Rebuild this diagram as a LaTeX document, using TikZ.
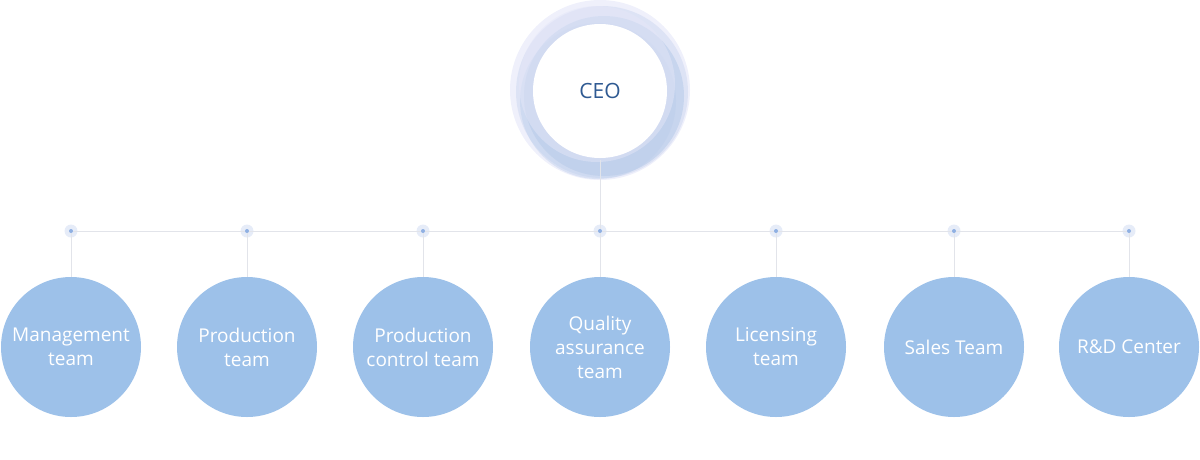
\documentclass[tikz,border=0pt]{standalone}
\usepackage{fontspec}
\setmainfont{Open Sans}
\definecolor{teamblue}{HTML}{9DC1E9}
\definecolor{linegray}{HTML}{E2E4EA}
\definecolor{dotblue}{HTML}{8FB0E3}
\definecolor{halo}{HTML}{E6ECF8}
\definecolor{ceotext}{HTML}{2F5A92}
\definecolor{ringA}{HTML}{E4E6F8}
\definecolor{ringB}{HTML}{B9CCEA}
\definecolor{ringC}{HTML}{D3DBF2}
\begin{document}
\begin{tikzpicture}[x=1pt,y=-1pt,
  team/.style={circle,fill=teamblue,minimum size=140pt,inner sep=0pt,text=white,font=\fontsize{19}{24}\selectfont,align=center},
  conn/.style={draw=linegray,line width=0.9pt},
  hub/.style={circle,fill=dotblue,minimum size=4pt,inner sep=0pt}]
\useasboundingbox (0,0) rectangle (1200,459);
% CEO rings
\fill[ringA,opacity=0.6] (600,90) circle (90);
\fill[ringC,opacity=0.6] (602,92) circle (86);
\fill[ringB,opacity=0.6] (604,96) circle (80);
\fill[ringB,opacity=0.4] (598,101) circle (78);
\fill[ringA,opacity=0.5] (597,84) circle (78);
\node[circle,fill=white,minimum size=134pt,inner sep=0pt,text=ceotext,font=\fontsize{21}{24}\selectfont] (ceo) at (600,91) {CEO};
% bus
\foreach \n/\x in {a/71,b/247,c/423,d/600,e/776,f/954,g/1129}{
  \fill[halo] (\x,231) circle (6.5);
  \node[hub] (h\n) at (\x,231) {};
}
\draw[conn] (ha) -- (hb) -- (hc) -- (hd) -- (he) -- (hf) -- (hg);
\coordinate (ceob) at (600,160);
\draw[conn] (ceob) -- (hd);
\node[team] (ta) at (71,347) {Management\\team};
\node[team] (tb) at (247,347) {Production\\team};
\node[team] (tc) at (423,347) {Production\\control team};
\node[team] (td) at (600,347) {Quality\\assurance\\team};
\node[team] (te) at (776,347) {Licensing\\team};
\node[team] (tf) at (954,347) {Sales Team};
\node[team] (tg) at (1129,347) {R\&D Center};
\foreach \n in {a,b,c,d,e,f,g}{\draw[conn] (h\n) -- (t\n);}
\end{tikzpicture}
\end{document}
